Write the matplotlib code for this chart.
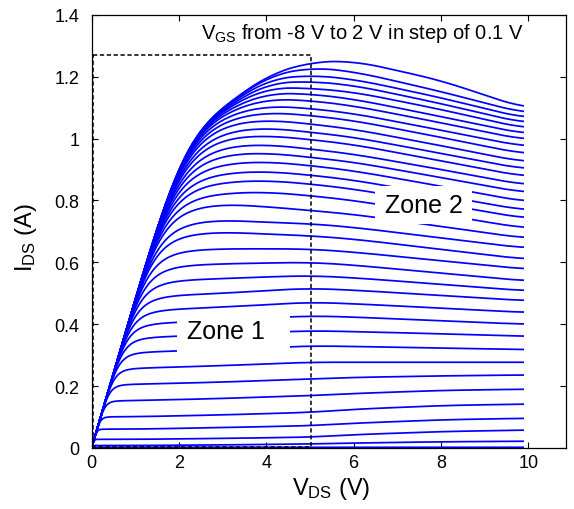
import numpy as np
import matplotlib
matplotlib.use("Agg")
import matplotlib.pyplot as plt
from matplotlib.patches import Rectangle
from matplotlib.ticker import FuncFormatter

plt.rcParams['font.family'] = ['Liberation Sans', 'DejaVu Sans']
plt.rcParams['mathtext.fontset'] = 'custom'
plt.rcParams['mathtext.rm'] = 'Liberation Sans'
plt.rcParams['mathtext.it'] = 'Liberation Sans:italic'
plt.rcParams['mathtext.bf'] = 'Liberation Sans:bold'

# ---- data ----
# saturation (plateau) current of every VGS curve, read at these VDS positions
knot_vds = [1, 3, 4, 5, 6, 8, 9.9]
sat_at_1 = [1.154, 1.152, 1.149, 1.144, 1.140, 1.133, 1.124, 1.110, 1.093, 1.074,
            1.048, 1.024, 0.993, 0.964, 0.932, 0.899, 0.868, 0.830, 0.793, 0.740,
            0.700, 0.645, 0.592, 0.542, 0.492, 0.446, 0.403, 0.358, 0.310, 0.258,
            0.206, 0.153, 0.101, 0.061, 0.028, 0.008, 0.002, 0.001]
sat_at_3 = [1.154, 1.152, 1.149, 1.144, 1.140, 1.133, 1.124, 1.110, 1.093, 1.074,
            1.048, 1.024, 0.993, 0.964, 0.932, 0.899, 0.868, 0.830, 0.793, 0.740,
            0.700, 0.645, 0.596, 0.548, 0.500, 0.455, 0.412, 0.366, 0.318, 0.266,
            0.213, 0.160, 0.107, 0.066, 0.031, 0.010, 0.002, 0.001]
sat_at_4 = [1.224, 1.220, 1.209, 1.196, 1.180, 1.161, 1.141, 1.117, 1.095, 1.069,
            1.042, 1.016, 0.986, 0.958, 0.929, 0.897, 0.867, 0.829, 0.781, 0.730,
            0.692, 0.644, 0.598, 0.553, 0.509, 0.463, 0.420, 0.373, 0.324, 0.272,
            0.218, 0.165, 0.111, 0.069, 0.033, 0.0115, 0.002, 0.001]
sat_at_5 = [1.256, 1.238, 1.212, 1.191, 1.168, 1.149, 1.127, 1.101, 1.078, 1.050,
            1.023, 0.999, 0.968, 0.941, 0.914, 0.883, 0.854, 0.816, 0.768, 0.725,
            0.686, 0.643, 0.600, 0.557, 0.516, 0.471, 0.427, 0.379, 0.330, 0.277,
            0.223, 0.169, 0.115, 0.072, 0.035, 0.013, 0.002, 0.001]
sat_at_6 = [1.254, 1.219, 1.194, 1.174, 1.152, 1.129, 1.107, 1.082, 1.059, 1.031,
            1.005, 0.981, 0.950, 0.924, 0.896, 0.866, 0.837, 0.800, 0.755, 0.713,
            0.675, 0.633, 0.591, 0.550, 0.510, 0.466, 0.423, 0.376, 0.328, 0.277,
            0.228, 0.176, 0.125, 0.080, 0.043, 0.016, 0.002, 0.001]
sat_at_8 = [1.188, 1.152, 1.132, 1.113, 1.094, 1.071, 1.051, 1.027, 1.004, 0.977,
            0.952, 0.928, 0.900, 0.874, 0.846, 0.816, 0.789, 0.755, 0.716, 0.679,
            0.642, 0.605, 0.565, 0.529, 0.493, 0.452, 0.411, 0.369, 0.323, 0.277,
            0.233, 0.186, 0.137, 0.091, 0.053, 0.020, 0.002, 0.001]
sat_at_end = [1.098, 1.082, 1.066, 1.050, 1.033, 1.015, 0.996, 0.974, 0.950, 0.924,
              0.901, 0.877, 0.850, 0.825, 0.796, 0.768, 0.742, 0.710, 0.678, 0.646,
              0.610, 0.578, 0.540, 0.508, 0.476, 0.438, 0.400, 0.361, 0.318, 0.277,
              0.236, 0.190, 0.142, 0.096, 0.058, 0.022, 0.002, 0.001]
linear_slope = 0.48   # A/V, initial slope of the curve bundle
knee_order = 5        # sharpness of the knee between linear and saturation region
vds_max = 9.9

x_ticks = [0, 2, 4, 6, 8, 10]
y_ticks = [0, 0.2, 0.4, 0.6, 0.8, 1.0, 1.2, 1.4]
zone_box_corners = [0.0, 5.0]   # VDS extent of the dashed zone-1 box
zone_box_top = 1.27

# ---- figure ----
fig = plt.figure(figsize=(5.74, 5.10), dpi=100)
ax = fig.add_axes([91.5 / 574, 61 / 510, 474 / 574, 433.3 / 510])

vds = np.linspace(0, vds_max, 199)
lin = linear_slope * vds
half = 12                       # smoothing half-window (samples) for the plateau knots
kernel = np.ones(2 * half + 1) / (2 * half + 1)
for k in range(len(sat_at_5)):
    knots = [sat_at_1[k], sat_at_3[k], sat_at_4[k], sat_at_5[k],
             sat_at_6[k], sat_at_8[k], sat_at_end[k]]
    sat = np.interp(vds, knot_vds, knots)
    sat = np.convolve(np.pad(sat, half, mode='edge'), kernel, mode='valid')
    ids = lin * sat / (lin ** knee_order + sat ** knee_order) ** (1.0 / knee_order)
    ax.plot(vds, ids, color='#0000ff', lw=1.25, zorder=2, solid_capstyle='butt')

# dashed box of zone 1
x0, x1 = zone_box_corners
ax.plot([x0 + 0.03, x1 + 0.03, x1 + 0.03, x0 + 0.03, x0 + 0.03],
        [zone_box_top, zone_box_top, 0.004, 0.004, zone_box_top],
        color='black', lw=1.1, dashes=(2.8, 1.7), zorder=2.5)

# zone labels with white backgrounds
ax.add_patch(Rectangle((1.96, 0.295), 2.59, 0.13, facecolor='white',
                       edgecolor='none', zorder=3))
ax.text(3.07, 0.377, 'Zone 1', fontsize=18, ha='center', va='center', zorder=4)
ax.add_patch(Rectangle((6.5, 0.725), 2.22, 0.123, facecolor='white',
                       edgecolor='none', zorder=3))
ax.text(7.61, 0.786, 'Zone 2', fontsize=18, ha='center', va='center', zorder=4)

ax.text(2.5, 1.3235, r'V$_{\rm GS}$ from -8 V to 2 V in step of 0.1 V',
        fontsize=14.5, ha='left', va='baseline', zorder=4)

ax.set_xlim(0, 10.85)
ax.set_ylim(0, 1.4)
ax.set_xticks(x_ticks)
ax.set_yticks(y_ticks)
fmt = FuncFormatter(lambda v, p: f'{v:g}')
ax.xaxis.set_major_formatter(fmt)
ax.yaxis.set_major_formatter(fmt)
ax.tick_params(direction='in', length=4, width=0.8, top=True, right=True,
               labelsize=13)
ax.tick_params(axis='x', pad=4)
ax.tick_params(axis='y', pad=8.5)
for s in ax.spines.values():
    s.set_linewidth(0.9)
    s.set_zorder(5)

ax.set_xlabel(r'V$_{\rm DS}$ (V)', fontsize=17)
ax.set_ylabel(r'I$_{\rm DS}$ (A)', fontsize=17)
ax.xaxis.set_label_coords(0.505, -0.062)
ax.yaxis.set_label_coords(-0.110, 0.488)

fig.savefig('out.png', dpi=100)
